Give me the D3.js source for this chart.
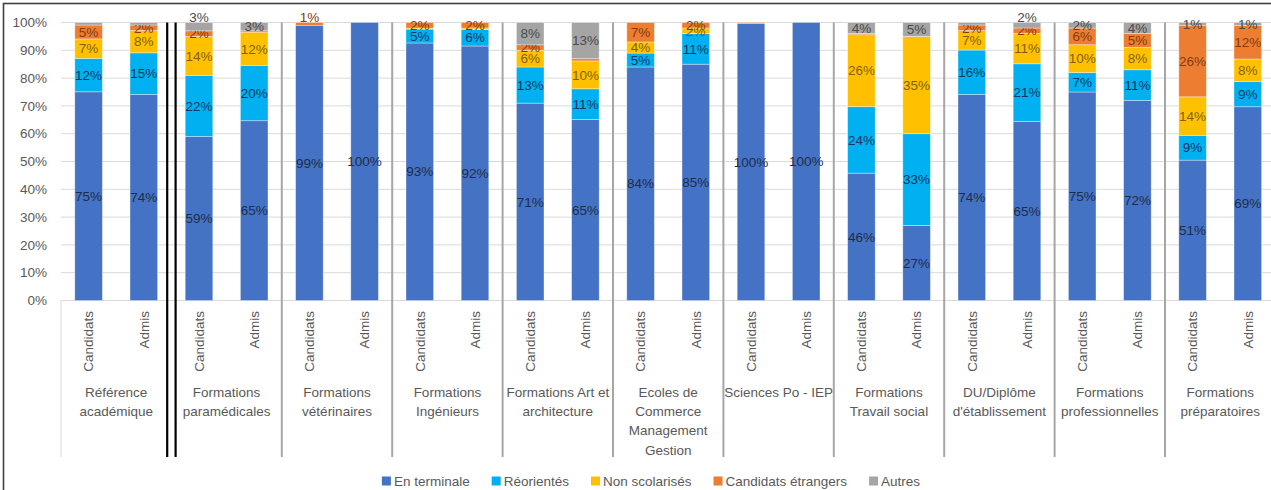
<!DOCTYPE html>
<html>
<head>
<meta charset="utf-8">
<script src="https://cdn.jsdelivr.net/npm/d3@7"></script>
<style>
  body { margin: 0; background: #fff; }
  svg { display: block; font-family: "Liberation Sans", Arial, sans-serif; }
</style>
</head>
<body>
<svg id="chart"></svg>
<script>
// chart data
const groups = [
    "Référence académique", "Formations paramédicales", "Formations vétérinaires",
    "Formations Ingénieurs", "Formations Art et architecture",
    "Ecoles de Commerce Management Gestion", "Sciences Po - IEP",
    "Formations Travail social", "DU/Diplôme d'établissement",
    "Formations professionnelles", "Formations préparatoires"
];
// group tick labels as they are broken on the axis
const groupLabels = [
    ["Référence", "académique"], ["Formations", "paramédicales"], ["Formations", "vétérinaires"],
    ["Formations", "Ingénieurs"], ["Formations Art et", "architecture"],
    ["Ecoles de", "Commerce", "Management", "Gestion"], ["Sciences Po - IEP"],
    ["Formations", "Travail social"], ["DU/Diplôme", "d'établissement"],
    ["Formations", "professionnelles"], ["Formations", "préparatoires"]
];
const bars = ["Candidats", "Admis"];
const series = ["En terminale", "Réorientés", "Non scolarisés", "Candidats étrangers", "Autres"];

// one value per bar: Candidats, Admis for each group (percent)
const enTerminale       = [75, 74, 59, 65, 99, 100, 93, 92, 71, 65, 84, 85, 99.7, 100, 46, 27, 74, 65, 75, 72, 51, 69];
const reorientes        = [12, 15, 22, 20, 0, 0, 5, 6, 13, 11, 5, 11, 0, 0, 24, 33, 16, 21, 7, 11, 9, 9];
const nonScolarises     = [7, 8, 14, 12, 0, 0, 0.4, 0.5, 6, 10, 4, 2, 0, 0, 26, 35, 7, 11, 10, 8, 14, 8];
const candidatsEtrangers = [5, 2, 2, 0.5, 1, 0, 2, 2, 2, 0.8, 7, 2, 0.3, 0, 0.4, 0, 2, 2, 6, 5, 26, 12];
const autres            = [0.9, 0.9, 3, 3, 0, 0, 0, 0, 8, 13, 0, 0, 0, 0, 4, 5, 0.9, 2, 2, 4, 1, 1];

const yTicks = [0, 0.1, 0.2, 0.3, 0.4, 0.5, 0.6, 0.7, 0.8, 0.9, 1];

const COLORS = {
    colors: {
        "En terminale": "#4472C4",
        "Réorientés": "#00B0F0",
        "Non scolarisés": "#FFC000",
        "Candidats étrangers": "#ED7D31",
        "Autres": "#A5A5A5"
    },
    labels: {
        "En terminale": "#1f2d4a",
        "Réorientés": "#10355e",
        "Non scolarisés": "#7F6000",
        "Candidats étrangers": "#843C0C",
        "Autres": "#4a4a4a"
    },
    get(label) { return this.colors[label] || "#808080"; }
};

// build rows for the stack
const valuesBySeries = [enTerminale, reorientes, nonScolarises, candidatsEtrangers, autres];
const rows = [];
groups.forEach((g, gi) => {
    bars.forEach((b, bi) => {
        const row = { group: g, bar: b };
        series.forEach((s, si) => row[s] = valuesBySeries[si][gi * 2 + bi]);
        rows.push(row);
    });
});

// labels that were pushed above the bar in the original
const lifted = new Set([
    "Formations paramédicales|Candidats|Autres",
    "Formations vétérinaires|Candidats|Candidats étrangers",
    "DU/Diplôme d'établissement|Admis|Autres"
]);

const width = 1271, height = 490;
const svg = d3.select("#chart").attr("width", width).attr("height", height);

svg.append("rect").attr("width", width).attr("height", height).attr("fill", "#fff");
svg.append("rect")
    .attr("x", 3.5).attr("y", 3.5)
    .attr("width", width + 20).attr("height", height + 20)
    .attr("fill", "none").attr("stroke", "#404040").attr("stroke-width", 1.6);

const plot = { left: 61, top: 22.5, bottom: 300.5, right: 61 + 11 * 110.4 };

const x0 = d3.scaleBand().domain(groups).range([plot.left, plot.right]);
const x1 = d3.scaleBand().domain(bars).range([0, x0.bandwidth()])
    .paddingInner(0.5).paddingOuter(0.25);
const y = d3.scaleLinear().domain([0, 1]).range([plot.bottom, plot.top]);

// gridlines
svg.append("g").selectAll("line")
    .data(yTicks)
    .join("line")
    .attr("x1", plot.left).attr("x2", width)
    .attr("y1", d => y(d)).attr("y2", d => y(d))
    .attr("stroke", "#d9d9d9").attr("stroke-width", 1);

// y tick labels
svg.append("g").selectAll("text")
    .data(yTicks)
    .join("text")
    .attr("x", 47).attr("y", d => y(d))
    .attr("dy", "0.35em")
    .attr("text-anchor", "end")
    .attr("font-size", 13.5)
    .attr("fill", "#595959")
    .text(d3.format(".0%"));

// stacked bars
const stack = d3.stack().keys(series).offset(d3.stackOffsetExpand);
const layers = stack(rows);
const barX = d => x0(d.data.group) + x1(d.data.bar);

const layerG = svg.append("g").selectAll("g")
    .data(layers)
    .join("g")
    .attr("fill", d => COLORS.get(d.key));

layerG.selectAll("rect")
    .data(d => d)
    .join("rect")
    .attr("x", barX)
    .attr("y", d => y(d[1]))
    .attr("width", x1.bandwidth())
    .attr("height", d => Math.max(0, y(d[0]) - y(d[1])))
    .attr("stroke", "#ffffff").attr("stroke-opacity", 0.45).attr("stroke-width", 0.8);

// separators between groups
const sepBottom = 457;
groups.slice(1).forEach((g, i) => {
    const sx = x0(g);
    if (i === 0) {
        [-4.2, 4.2].forEach(off => {
            svg.append("line")
                .attr("x1", sx + off).attr("x2", sx + off)
                .attr("y1", plot.top).attr("y2", sepBottom)
                .attr("stroke", "#000").attr("stroke-width", 2.2);
        });
    } else {
        svg.append("line")
            .attr("x1", sx).attr("x2", sx)
            .attr("y1", plot.top).attr("y2", sepBottom)
            .attr("stroke", "#a6a6a6").attr("stroke-width", 2);
    }
});
svg.append("line")
    .attr("x1", plot.left).attr("x2", plot.left)
    .attr("y1", plot.bottom).attr("y2", sepBottom)
    .attr("stroke", "#d9d9d9").attr("stroke-width", 1);

// data labels
layerG.each(function(layer) {
    d3.select(this).selectAll("text")
        .data(layer.filter(d => d.data[layer.key] >= 1))
        .join("text")
        .attr("x", d => barX(d) + x1.bandwidth() / 2)
        .attr("y", d => {
            const key = d.data.group + "|" + d.data.bar + "|" + layer.key;
            return lifted.has(key) ? y(1) - 5 : y((d[0] + d[1]) / 2);
        })
        .attr("dy", "0.35em")
        .attr("text-anchor", "middle")
        .attr("font-size", 13.5)
        .attr("fill", COLORS.labels[layer.key])
        .text(d => Math.round(d.data[layer.key]) + "%");
});

// bar category labels (rotated)
svg.append("g").selectAll("text")
    .data(rows)
    .join("text")
    .attr("transform", d => `translate(${x0(d.group) + x1(d.bar) + x1.bandwidth() / 2},311) rotate(-90)`)
    .attr("dy", "0.35em")
    .attr("text-anchor", "end")
    .attr("font-size", 13.5)
    .attr("fill", "#595959")
    .text(d => d.bar);

// group labels
svg.append("g").selectAll("text")
    .data(groups)
    .join("text")
    .attr("text-anchor", "middle")
    .attr("font-size", 13.5)
    .attr("fill", "#595959")
    .each(function(g, gi) {
        d3.select(this).selectAll("tspan")
            .data(groupLabels[gi])
            .join("tspan")
            .attr("x", x0(g) + x0.bandwidth() / 2)
            .attr("y", (_d, i) => 392 + i * 19.3)
            .attr("dy", "0.35em")
            .text(d => d);
    });

// legend
const legend = svg.append("g");
let lx = 0;
series.forEach(s => {
    const item = legend.append("g").attr("transform", `translate(${lx},0)`);
    item.append("rect")
        .attr("x", 0).attr("y", -4.5)
        .attr("width", 9).attr("height", 9)
        .attr("fill", COLORS.get(s));
    const t = item.append("text")
        .attr("x", 12).attr("dy", "0.35em")
        .attr("font-size", 13.5)
        .attr("fill", "#595959")
        .text(s);
    lx += 12 + t.node().getComputedTextLength() + 22;
});
const legendW = lx - 22;
legend.attr("transform", `translate(${651 - legendW / 2},481)`);
</script>
</body>
</html>
